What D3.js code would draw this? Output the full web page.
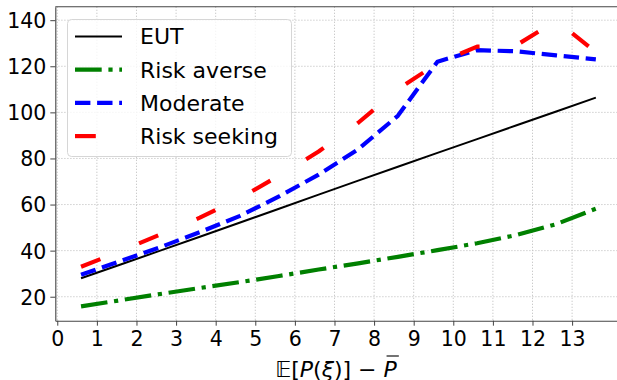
<!DOCTYPE html>
<html>
<head>
<meta charset="utf-8">
<script src="https://cdn.jsdelivr.net/npm/d3@7"></script>
<style>
  body { margin: 0; background: #fff; }
  svg { display: block; font-family: "DejaVu Sans", sans-serif; }
</style>
</head>
<body>
<div class="chart"></div>
<script>
// data
const xValues = [0.6, 1.6, 2.6, 3.6, 4.6, 5.6, 6.6, 7.6, 8.6, 9.6, 10.6, 11.6, 12.6, 13.6];
const eut = [28, 34, 40, 46, 52.1, 58.2, 64.3, 70.4, 76.4, 82.4, 88.4, 94.4, 100.4, 106.4];
const riskAverse = [15.8, 18.5, 21.2, 23.8, 26.3, 29.0, 31.8, 34.5, 37.3, 40.2, 43.2, 46.8, 51.5, 58.2];
const moderate = [29.5, 35.5, 41.5, 48, 55, 63.5, 73, 84, 98.5, 122, 127, 126.5, 124.7, 123];
const riskSeeking = [33, 39.8, 47, 54.3, 62.7, 72.5, 83, 95.5, 110, 121.3, 128.5, 129.2, 139.8, 126.1];
const seriesNames = ["EUT", "Risk averse", "Moderate", "Risk seeking"];
const xTicks = [0, 1, 2, 3, 4, 5, 6, 7, 8, 9, 10, 11, 12, 13];
const yTicks = [20, 40, 60, 80, 100, 120, 140];

const width = 617, height = 380;
const plotLeft = 55.3, plotRight = 621.6, plotTop = 6.7, plotBottom = 320.7;

const svg = d3.select(".chart").append("svg")
  .attr("width", width)
  .attr("height", height);

const x = d3.scaleLinear().domain([-0.05, 14.25]).range([plotLeft, plotRight]);
const y = d3.scaleLinear().domain([9.6, 145.85]).range([plotBottom, plotTop]);

// dotted grid
const grid = svg.append("g")
  .attr("stroke", "#c4c4c4")
  .attr("stroke-width", 1)
  .attr("stroke-dasharray", "1.2,1.8");
grid.selectAll(".gx").data(xTicks).join("line")
  .attr("class", "gx")
  .attr("x1", d => x(d)).attr("x2", d => x(d))
  .attr("y1", plotTop).attr("y2", plotBottom);
grid.selectAll(".gy").data(yTicks).join("line")
  .attr("class", "gy")
  .attr("x1", plotLeft).attr("x2", plotRight)
  .attr("y1", d => y(d)).attr("y2", d => y(d));

// series
const styles = [
  { values: eut, color: "#000000", w: 2, dash: null },
  { values: riskAverse, color: "#008000", w: 4.17, dash: "26.7,6.7,4.2,6.7" },
  { values: moderate, color: "#0000ff", w: 4.17, dash: "15.4,6.7" },
  { values: riskSeeking, color: "#ff0000", w: 4.17, dash: "20.8,41.7" }
];

const line = d3.line()
  .x((d, i) => x(xValues[i]))
  .y(d => y(d));

styles.forEach(s => {
  svg.append("path")
    .datum(s.values)
    .attr("d", line)
    .attr("fill", "none")
    .attr("stroke", s.color)
    .attr("stroke-width", s.w)
    .attr("stroke-linejoin", "round")
    .attr("stroke-linecap", "butt")
    .attr("stroke-dasharray", s.dash);
});

// axes
const xAxis = svg.append("g")
  .attr("transform", "translate(0," + plotBottom + ")")
  .call(d3.axisBottom(x).tickValues(xTicks).tickSize(5).tickPadding(6).tickSizeOuter(0));
const yAxis = svg.append("g")
  .attr("transform", "translate(" + plotLeft + ",0)")
  .call(d3.axisLeft(y).tickValues(yTicks).tickSize(5).tickPadding(4).tickSizeOuter(0));

[xAxis, yAxis].forEach(a => {
  a.select(".domain").attr("stroke", "#444").attr("stroke-width", 1.1);
  a.selectAll(".tick line").attr("stroke", "#444").attr("stroke-width", 1);
  a.selectAll(".tick text")
    .attr("fill", "#000")
    .style("font-family", "DejaVu Sans")
    .style("font-size", "20.5px");
});
yAxis.selectAll(".tick text").attr("dy", "0.36em");
xAxis.selectAll(".tick text").attr("dy", "0.71em");

// top spine
svg.append("line")
  .attr("x1", plotLeft).attr("x2", plotRight)
  .attr("y1", plotTop).attr("y2", plotTop)
  .attr("stroke", "#444").attr("stroke-width", 1.1);

// x axis label: E[P(xi)] - P bar
const label = svg.append("text")
  .attr("x", 336)
  .attr("y", 376.5)
  .attr("text-anchor", "middle")
  .attr("fill", "#000")
  .style("font-size", "22px");
label.append("tspan").text("𝔼[");
label.append("tspan").style("font-style", "italic").text("P");
label.append("tspan").text("(");
label.append("tspan").style("font-style", "italic").text("ξ");
label.append("tspan").text(")] \u2212 ");
label.append("tspan").style("font-style", "italic").text("P");

const labelNode = label.node();
const n = labelNode.getNumberOfChars();
const lastStart = labelNode.getStartPositionOfChar(n - 1);
const lastEnd = labelNode.getEndPositionOfChar(n - 1);
svg.append("line")
  .attr("x1", lastStart.x + 3).attr("x2", lastEnd.x + 2)
  .attr("y1", 356).attr("y2", 356)
  .attr("stroke", "#000").attr("stroke-width", 1.1);

// legend
const legend = svg.append("g");
legend.append("rect")
  .attr("x", 67.5).attr("y", 19.5)
  .attr("width", 224).attr("height", 137)
  .attr("rx", 4)
  .attr("fill", "#fff").attr("fill-opacity", 0.8)
  .attr("stroke", "#d6d6d6").attr("stroke-width", 1);

styles.forEach((s, i) => {
  const cy = 36.5 + i * 33.2;
  legend.append("line")
    .attr("x1", 75).attr("x2", 122)
    .attr("y1", cy).attr("y2", cy)
    .attr("stroke", s.color)
    .attr("stroke-width", s.w)
    .attr("stroke-dasharray", s.dash);
  legend.append("text")
    .attr("x", 140).attr("y", cy)
    .attr("dy", "0.36em")
    .attr("fill", "#000")
    .style("font-size", "22px")
    .text(seriesNames[i]);
});
</script>
</body>
</html>
